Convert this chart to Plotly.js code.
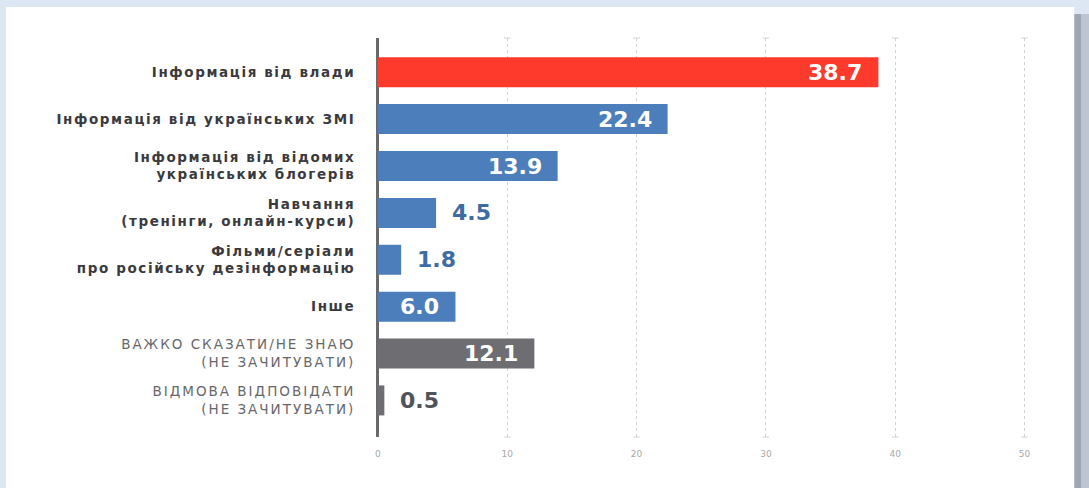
<!DOCTYPE html>
<html><head><meta charset="utf-8">
<script src="https://cdn.plot.ly/plotly-3.0.1.min.js"></script>
<style>html,body{margin:0;padding:0;background:#dde6f3;}#c{width:1089px;height:488px;}</style>
</head><body><div id="c"></div>
<script>
const categories = [
  "Інформація від влади",
  "Інформація від українських ЗМІ",
  "Інформація від відомих<br>українських блогерів",
  "Навчання<br>(тренінги, онлайн-курси)",
  "Фільми/серіали<br>про російську дезінформацію",
  "Інше",
  "ВАЖКО СКАЗАТИ/НЕ ЗНАЮ<br>(НЕ ЗАЧИТУВАТИ)",
  "ВІДМОВА ВІДПОВІДАТИ<br>(НЕ ЗАЧИТУВАТИ)"
];
const values = [38.7, 22.4, 13.9, 4.5, 1.8, 6.0, 12.1, 0.5];
const barColors = ["#fe3a2c","#4b7ebb","#4b7ebb","#4b7ebb","#4b7ebb","#4b7ebb","#6d6d72","#6d6d72"];
const labelInside = [true, true, true, false, false, true, true, false];
const outsideTextColors = ["#fe3a2c","#3d6ba5","#3d6ba5","#3d6ba5","#3d6ba5","#3d6ba5","#505359","#505359"];
const xTicks = [0, 10, 20, 30, 40, 50];

const idx = categories.map((_, i) => i);
const tickText = categories.map((c, i) => i < 6
  ? '<span style="font-weight:bold;letter-spacing:1.6px;fill:#3a3a3e">' + c + '</span>'
  : '<span style="letter-spacing:2.0px;fill:#67676b">' + c + '</span>');

const trace = {
  type: 'bar', orientation: 'h',
  x: values, y: idx,
  width: 0.64,
  marker: {color: barColors},
  hoverinfo: 'x'
};

const annotations = values.map((v, i) => ({
  x: v, y: i, xref: 'x', yref: 'y',
  text: '<b>' + v.toFixed(1) + '</b>',
  showarrow: false,
  xanchor: labelInside[i] ? 'right' : 'left',
  xshift: labelInside[i] ? -14 : 14,
  font: {family: 'DejaVu Sans', size: 22, color: labelInside[i] ? '#ffffff' : outsideTextColors[i]}
}));

const shapes = [
  {type:'rect', xref:'paper', yref:'paper', x0:-0.56, x1:1.066, y0:-0.2, y1:1.0777, fillcolor:'#ffffff', line:{width:0}, layer:'below'},
  {type:'rect', xref:'paper', yref:'paper', x0:1.066, x1:1.077, y0:-0.2, y1:1.06, fillcolor:'#9ea7b4', line:{width:0}, layer:'below'},
  {type:'rect', xref:'paper', yref:'paper', x0:1.077, x1:1.09, y0:-0.2, y1:1.06, fillcolor:'#bcc5d2', line:{width:0}, layer:'below'}
];
xTicks.slice(1).forEach(t => {
  shapes.push({type:'line', xref:'x', yref:'paper', x0:t-0.25, x1:t+0.25, y0:1, y1:1, line:{color:'#d2d2d2', width:1}, layer:'below'});
  shapes.push({type:'line', xref:'x', yref:'paper', x0:t-0.25, x1:t+0.25, y0:0, y1:0, line:{color:'#d2d2d2', width:1}, layer:'below'});
});

const layout = {
  width: 1089, height: 488,
  margin: {l: 374, r: 58, t: 38, b: 51},
  paper_bgcolor: '#dde6f3',
  plot_bgcolor: 'rgba(0,0,0,0)',
  showlegend: false,
  xaxis: {
    range: [-0.3, 50.5],
    tickvals: xTicks, ticktext: xTicks.map(String),
    showgrid: true, gridcolor: '#d2d2d2', griddash: '3px,3px', gridwidth: 1,
    zeroline: true, zerolinecolor: '#6a6a6a', zerolinewidth: 3,
    showline: false,
    ticks: 'outside', ticklen: 8, tickcolor: 'rgba(0,0,0,0)',
    tickfont: {family: 'DejaVu Sans', size: 9, color: '#a8a8a8'}
  },
  yaxis: {
    range: [7.78, -0.73],
    tickvals: idx, ticktext: tickText,
    showgrid: false, zeroline: false, showline: false,
    ticks: 'outside', ticklen: 15, tickcolor: 'rgba(0,0,0,0)',
    tickfont: {family: 'DejaVu Sans', size: 13.5, color: '#3a3a3e'}
  },
  shapes: shapes,
  annotations: annotations
};

Plotly.newPlot('c', [trace], layout, {displayModeBar: false, staticPlot: true});
</script></body></html>
